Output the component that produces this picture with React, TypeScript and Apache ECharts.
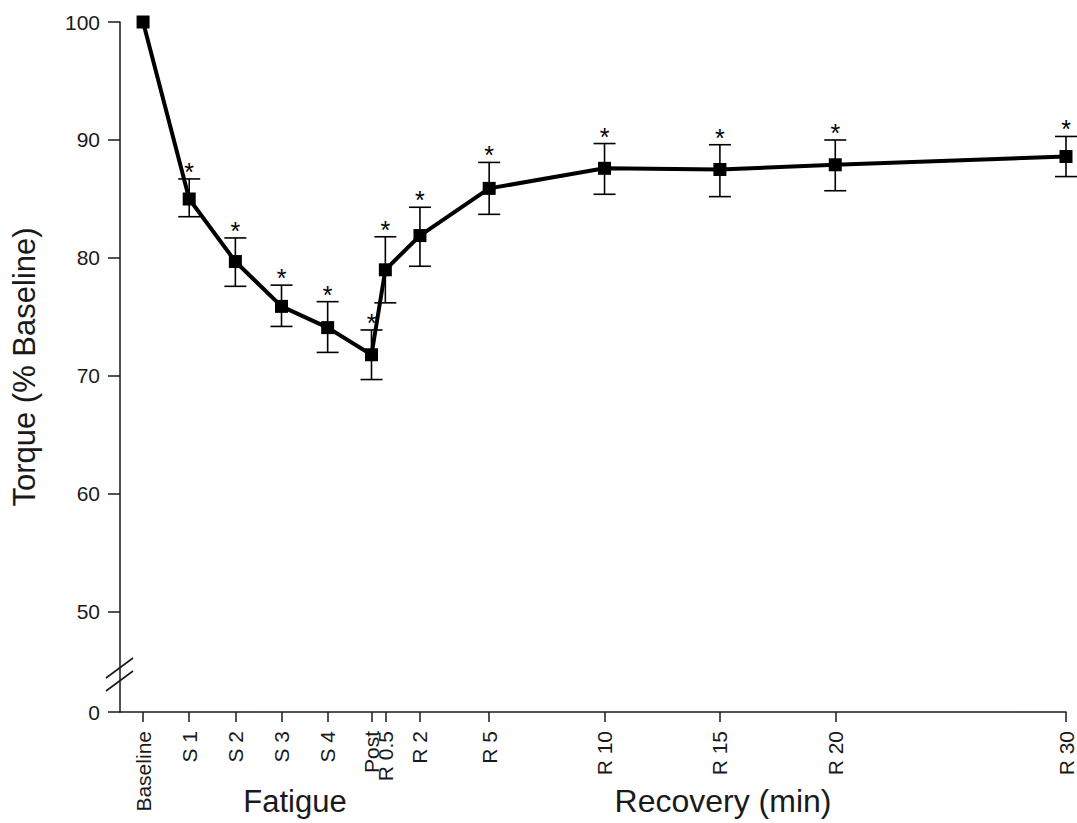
import React, { useEffect, useRef } from "react";
import * as echarts from "echarts";

// Time points (x position: fatigue sets spaced like 2-min steps, recovery in minutes)
const labels = ["Baseline", "S 1", "S 2", "S 3", "S 4", "Post", "R 0.5", "R 2", "R 5", "R 10", "R 15", "R 20", "R 30"];
const xPos = [-10, -8, -6, -4, -2, -0.1, 0.5, 2, 5, 10, 15, 20, 30];
// Torque (% Baseline)
const means = [100, 85.0, 79.7, 75.9, 74.1, 71.8, 79.0, 81.9, 85.9, 87.6, 87.5, 87.9, 88.6];
const lows = [100, 83.5, 77.6, 74.2, 72.0, 69.7, 76.2, 79.3, 83.7, 85.4, 85.2, 85.7, 86.9];
const highs = [100, 86.7, 81.7, 77.7, 76.3, 73.9, 81.8, 84.3, 88.1, 89.7, 89.6, 90.0, 90.3];
const significant = [false, true, true, true, true, true, true, true, true, true, true, true, true];

// Y axis with a break between 0 and 50: the "0" tick sits at an axis coordinate below 50
const yZeroCoord = 41.525;
const yTicks = [yZeroCoord, 50, 60, 70, 80, 90, 100];
const yBreakCoord = 44.45;
const xMin = -11;
const xMax = 30;

const FONT = "Liberation Sans, Arial, Helvetica, sans-serif";
const INK = "#1a1a1a";

export default function App() {
  const ref = useRef<HTMLDivElement>(null);

  useEffect(() => {
    if (!ref.current) return;
    const chart = echarts.init(ref.current, null, { renderer: "svg" });

    const lineData = xPos.map((x, i) => [x, means[i]]);
    const errData = xPos
      .map((x, i) => [x, lows[i], highs[i], significant[i] ? 1 : 0])
      .filter((d) => d[1] !== d[2]);

    const option: any = {
      animation: false,
      backgroundColor: "#ffffff",
      grid: { left: 120, right: 11, top: 22, bottom: 111, containLabel: false, outerBoundsMode: "none" },
      xAxis: {
        type: "value",
        min: xMin,
        max: xMax,
        axisLine: { show: true, onZero: false, lineStyle: { color: INK, width: 1.5 } },
        axisTick: { show: true, customValues: xPos, length: 10, lineStyle: { color: INK, width: 1.5 } },
        axisLabel: {
          customValues: xPos,
          rotate: 90,
          margin: 19,
          fontSize: 21,
          fontFamily: FONT,
          color: INK,
          formatter: (v: number) => {
            const i = xPos.indexOf(v);
            return i >= 0 ? labels[i] : "";
          },
        },
        splitLine: { show: false },
      },
      yAxis: {
        type: "value",
        min: yZeroCoord,
        max: 100,
        name: "Torque (% Baseline)",
        nameLocation: "middle",
        nameGap: 80,
        nameTextStyle: { fontSize: 31, fontFamily: FONT, color: INK },
        axisLine: { show: true, onZero: false, lineStyle: { color: INK, width: 1.5 } },
        axisTick: { show: true, customValues: yTicks, length: 12, lineStyle: { color: INK, width: 1.5 } },
        axisLabel: {
          customValues: yTicks,
          margin: 20,
          fontSize: 21,
          fontFamily: FONT,
          color: INK,
          formatter: (v: number) => (v < 50 ? "0" : String(Math.round(v))),
        },
        splitLine: { show: false },
      },
      graphic: [
        {
          type: "text",
          x: 295,
          y: 801,
          style: { text: "Fatigue", fontSize: 31, fontFamily: FONT, fill: INK, textAlign: "center", textVerticalAlign: "middle" },
        },
        {
          type: "text",
          x: 723,
          y: 801,
          style: { text: "Recovery (min)", fontSize: 32, fontFamily: FONT, fill: INK, textAlign: "center", textVerticalAlign: "middle" },
        },
      ],
      series: [
        {
          type: "custom",
          name: "error",
          data: errData,
          z: 2,
          clip: false,
          renderItem: (params: any, api: any) => {
            const x = api.value(0);
            const lo = api.coord([x, api.value(1)]);
            const hi = api.coord([x, api.value(2)]);
            const cx = lo[0];
            const w = 11;
            const st = { stroke: "#000", lineWidth: 1.6 };
            const children: any[] = [
              { type: "line", shape: { x1: cx, y1: lo[1], x2: cx, y2: hi[1] }, style: st },
              { type: "line", shape: { x1: cx - w, y1: lo[1], x2: cx + w, y2: lo[1] }, style: st },
              { type: "line", shape: { x1: cx - w, y1: hi[1], x2: cx + w, y2: hi[1] }, style: st },
            ];
            if (api.value(3) === 1) {
              children.push({
                type: "text",
                x: cx,
                y: hi[1] - 7,
                style: { text: "*", fontSize: 25, fontFamily: FONT, fill: "#000", textAlign: "center", textVerticalAlign: "middle" },
              });
            }
            return { type: "group", children };
          },
        },
        {
          type: "line",
          name: "Torque",
          data: lineData,
          z: 3,
          symbol: "rect",
          symbolSize: 13,
          lineStyle: { color: "#000", width: 4 },
          itemStyle: { color: "#000" },
        },
        {
          type: "custom",
          name: "break",
          data: [[xMin, yBreakCoord]],
          z: 4,
          clip: false,
          silent: true,
          renderItem: (params: any, api: any) => {
            const p = api.coord([api.value(0), api.value(1)]);
            const st = { stroke: INK, lineWidth: 1.6 };
            return {
              type: "group",
              children: [
                { type: "line", shape: { x1: p[0] - 14, y1: p[1] + 6.5 + 7, x2: p[0] + 13, y2: p[1] + 6.5 - 14 + 1 }, style: st },
                { type: "line", shape: { x1: p[0] - 14, y1: p[1] - 6.5 + 7, x2: p[0] + 13, y2: p[1] - 6.5 - 14 + 1 }, style: st },
              ],
            };
          },
        },
      ],
    };

    chart.setOption(option);
    return () => chart.dispose();
  }, []);

  return (
    <div
      ref={ref}
      style={{ position: "absolute", left: 0, top: 0, width: 1077, height: 823, background: "#fff" }}
    />
  );
}
